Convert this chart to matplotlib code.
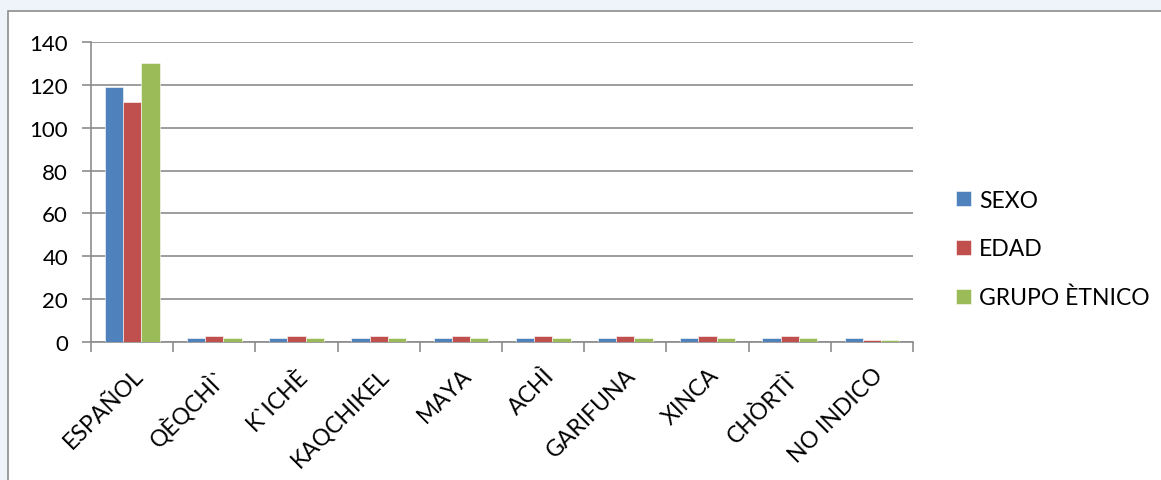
import matplotlib
matplotlib.use("Agg")
import matplotlib.pyplot as plt
import numpy as np
from matplotlib.patches import Rectangle

categories = ["ESPAÑOL", "QÈQCHÌ`", "K`ICHÈ", "KAQCHIKEL", "MAYA", "ACHÌ",
              "GARIFUNA", "XINCA", "CHÒRTÌ`", "NO INDICO"]
sexo = [119, 2, 2, 2, 2, 2, 2, 2, 2, 2]
edad = [112, 3, 3, 3, 3, 3, 3, 3, 3, 1]
grupo = [130, 2, 2, 2, 2, 2, 2, 2, 2, 1]
series_names = ["SEXO", "EDAD", "GRUPO ÈTNICO"]
colors = ["#4F81BD", "#C0504D", "#9BBB59"]
yticks = [0, 20, 40, 60, 80, 100, 120, 140]

plt.rcParams['font.family'] = ['Lato', 'DejaVu Sans']

fig = plt.figure(figsize=(11.61, 4.81), dpi=100)
fig.patch.set_facecolor("#EEF4FA")
W, H = 1161, 481
# chart area (white with gray border)
fig.patches.append(Rectangle((8 / W, -0.1), 1.2, (H - 12) / H + 0.1,
                             transform=fig.transFigure, facecolor="white",
                             edgecolor="#8C8C8C", linewidth=1.2, zorder=-10))

ax = fig.add_axes([91 / W, (H - 343) / H, (913 - 91) / W, (343 - 43) / H])
ax.set_facecolor("white")

x = np.arange(len(categories))
bw = 1 / 4.5
for i, (vals, name, c) in enumerate(zip([sexo, edad, grupo], series_names, colors)):
    ax.bar(x + (i - 1) * bw, vals, width=bw, color=c, label=name,
           edgecolor="white", linewidth=0.4, zorder=3)

ax.set_xlim(-0.5, len(categories) - 0.5)
ax.set_ylim(0, 140)
ax.set_yticks(yticks)
ax.yaxis.grid(True, color="#8C8C8C", linewidth=1.2, zorder=0)
ax.set_axisbelow(True)

ax.set_xticks(np.arange(len(categories) + 1) - 0.5, minor=False)
ax.set_xticklabels([])
ax.set_xticks(x, minor=True)
ax.set_xticklabels(categories, minor=True, rotation=45, ha="right",
                   rotation_mode="anchor", fontsize=16.5)
ax.tick_params(axis="x", which="minor", length=0, pad=16)
ax.tick_params(axis="x", which="major", length=7, width=1.2, color="#8C8C8C")
ax.tick_params(axis="y", length=6.5, width=1.2, color="#8C8C8C", labelsize=16, pad=10)

for s in ["top", "right"]:
    ax.spines[s].set_visible(False)
for s in ["left", "bottom"]:
    ax.spines[s].set_color("#8C8C8C")
    ax.spines[s].set_linewidth(1.2)

leg = ax.legend(loc="center left", bbox_to_anchor=(956 / W, (H - 250) / H),
                bbox_transform=fig.transFigure, frameon=False, fontsize=16.5,
                handlelength=0.65, handleheight=0.65, handletextpad=0.35,
                labelspacing=1.2, borderaxespad=0, borderpad=0)

fig.savefig("out.png", dpi=100, facecolor=fig.get_facecolor())
